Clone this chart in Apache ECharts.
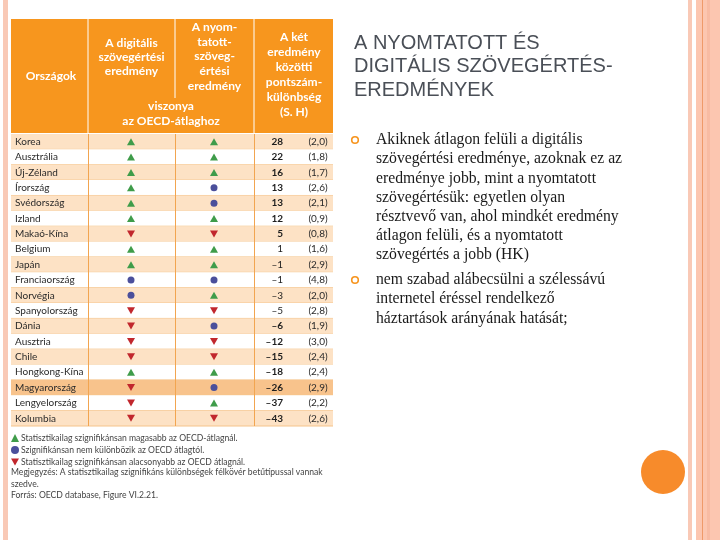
<!DOCTYPE html>
<html><head><meta charset="utf-8">
<script src="https://cdn.jsdelivr.net/npm/echarts@6/dist/echarts.min.js"></script>
<style>html,body{margin:0;padding:0;background:#fff}#c{width:720px;height:540px}</style>
</head><body><div id="c"></div>
<script>
// ---------- DATA ----------
const countries = ["Korea","Ausztrália","Új-Zéland","Írország","Svédország","Izland","Makaó-Kína","Belgium","Japán","Franciaország","Norvégia","Spanyolország","Dánia","Ausztria","Chile","Hongkong-Kína","Magyarország","Lengyelország","Kolumbia"];
const digitalStatus = ["up","up","up","up","up","up","down","up","up","same","same","down","down","down","down","up","down","down","down"];
const printedStatus = ["up","up","up","same","same","up","down","up","up","same","up","down","same","down","down","up","same","up","down"];
const diffValues = [28,22,16,13,13,12,5,1,-1,-1,-3,-5,-6,-12,-15,-18,-26,-37,-43];
const seValues = ["2,0","1,8","1,7","2,6","2,1","0,9","0,8","1,6","2,9","4,8","2,0","2,8","1,9","3,0","2,4","2,4","2,9","2,2","2,6"];
const significant = [true,true,true,true,true,true,true,false,false,false,false,false,true,true,true,true,true,true,true];
const highlightCountry = "Magyarország";
const statusNames = {
  up: "Statisztikailag szignifikánsan magasabb az OECD-átlagnál.",
  same: "Szignifikánsan nem különbözik az OECD átlagtól.",
  down: "Statisztikailag szignifikánsan alacsonyabb az OECD átlagnál."
};
const headerCountry = "Országok";
const headerDigital = ["A digitális","szövegértési","eredmény"];
const headerPrinted = ["A nyom-","tatott-","szöveg-","értési","eredmény"];
const headerRelation = ["viszonya","az OECD-átlaghoz"];
const headerDiff = ["A két","eredmény","közötti","pontszám-","különbség","(S. H)"];
const noteLines = ["Megjegyzés: A statisztikailag szignifikáns különbségek félkövér betűtípussal vannak","szedve.","Forrás: OECD database, Figure VI.2.21."];
const titleLines = ["A NYOMTATOTT ÉS","DIGITÁLIS SZÖVEGÉRTÉS-","EREDMÉNYEK"];
const bulletTexts = [
  ["Akiknek átlagon felüli a digitális","szövegértési eredménye, azoknak ez az","eredménye jobb, mint a nyomtatott","szövegértésük: egyetlen olyan","résztvevő van, ahol mindkét eredmény","átlagon felüli, és a nyomtatott","szövegértés a jobb (HK)"],
  ["nem szabad alábecsülni a szélessávú","internetel éréssel rendelkező","háztartások arányának hatását;"]
];

// ---------- LAYOUT ----------
const TABLE_W = 322;
const COL_DIG = 120, COL_PRI = 203, COL_DIFF = 272, COL_SE = 307;
const DIVIDERS = [77, 164, 243];
const COLORS = {up:'#3f9c4a', same:'#4b4f9b', down:'#c1272d'};
const SYMBOLS = {up:'triangle', same:'circle', down:'path://M0,0L10,0L5,8.7Z'};
const SIZES = {up:[8,7], same:7, down:[8,7]};

function markerData(status){
  const out=[];
  countries.forEach((c,i)=>{
    if(digitalStatus[i]===status) out.push([COL_DIG,i]);
    if(printedStatus[i]===status) out.push([COL_PRI,i]);
  });
  return out;
}
const fmt = v => (v<0 ? '\u2013'+Math.abs(v) : String(v));

const chart = echarts.init(document.getElementById('c'), null, {renderer:'canvas'});
const FONT = 'Lato, "Open Sans", sans-serif';
const HF = 'bold 12px '+FONT;

const graphics = [
  {type:'rect', shape:{x:3,y:0,width:5,height:540}, style:{fill:'#f9c9b6'}, silent:true},
  {type:'rect', shape:{x:688,y:0,width:4,height:540}, style:{fill:'#f9c9b6'}, silent:true},
  {type:'rect', shape:{x:696,y:0,width:24,height:540}, style:{fill:'#fcc6b0'}, silent:true},
  {type:'rect', shape:{x:707,y:0,width:3,height:540}, style:{fill:'#f8bba3'}, silent:true},
  {type:'line', shape:{x1:702.5,y1:0,x2:702.5,y2:540}, style:{stroke:'#ef9a6a',lineWidth:1}, silent:true},
  {type:'rect', shape:{x:11,y:19,width:TABLE_W,height:114}, style:{fill:'#f7961e'}},
  {type:'line', shape:{x1:88,y1:19,x2:88,y2:133}, style:{stroke:'#fff',lineWidth:1}},
  {type:'line', shape:{x1:175,y1:19,x2:175,y2:98}, style:{stroke:'#fff',lineWidth:1}},
  {type:'line', shape:{x1:254,y1:19,x2:254,y2:133}, style:{stroke:'#fff',lineWidth:1}},
  {type:'text', x:51, y:76, style:{text:headerCountry, font:HF, fill:'#fff', align:'center', verticalAlign:'middle'}},
  {type:'text', x:131.5, y:36, style:{text:headerDigital.join('\n'), font:HF, fill:'#fff', align:'center', verticalAlign:'top', lineHeight:14}},
  {type:'text', x:214.5, y:19.5, style:{text:headerPrinted.join('\n'), font:HF, fill:'#fff', align:'center', verticalAlign:'top', lineHeight:14.8}},
  {type:'text', x:171, y:98.5, style:{text:headerRelation.join('\n'), font:HF, fill:'#fff', align:'center', verticalAlign:'top', lineHeight:15}},
  {type:'text', x:294, y:29.5, style:{text:headerDiff.join('\n'), font:HF, fill:'#fff', align:'center', verticalAlign:'top', lineHeight:15}},
  {type:'text', x:11, y:466.5, style:{text:noteLines.join('\n'), font:'8.6px '+FONT, fill:'#444', align:'left', verticalAlign:'top', lineHeight:11.5}},
  {type:'text', x:354, y:31.5, style:{text:titleLines.join('\n'), font:'20px "Liberation Sans", Arial, sans-serif', fill:'#4a4f57', align:'left', verticalAlign:'top', lineHeight:23.5}},
  {type:'circle', shape:{cx:355,cy:140,r:3.3}, style:{fill:'none', stroke:'#f7941d', lineWidth:1.6}},
  {type:'text', x:376, y:130.5, style:{text:bulletTexts[0].join('\n'), font:'15.7px "Liberation Serif", serif', fill:'#1a1a1a', align:'left', verticalAlign:'top', lineHeight:19.2}},
  {type:'circle', shape:{cx:355,cy:280,r:3.3}, style:{fill:'none', stroke:'#f7941d', lineWidth:1.6}},
  {type:'text', x:376, y:270.5, style:{text:bulletTexts[1].join('\n'), font:'15.7px "Liberation Serif", serif', fill:'#1a1a1a', align:'left', verticalAlign:'top', lineHeight:19.2}},
  {type:'circle', shape:{cx:663,cy:472,r:22}, style:{fill:'#f78b2b'}}
];

chart.setOption({
  animation:false,
  backgroundColor:'#ffffff',
  grid:{left:11, top:134, width:TABLE_W, height:292, containLabel:false},
  xAxis:{type:'value', min:0, max:TABLE_W, show:false},
  yAxis:{type:'category', inverse:true, data:countries, z:10,
    axisLine:{show:false}, axisTick:{show:false}, splitLine:{show:false},
    axisLabel:{inside:true, margin:4, align:'left', color:'#2a2a2a', fontSize:10, fontFamily:FONT}},
  legend:{left:11, top:432.5, orient:'vertical', itemGap:1, itemWidth:8, itemHeight:8, padding:0,
    selectedMode:false,
    textStyle:{fontSize:8.6, lineHeight:11, fontFamily:FONT, color:'#444', padding:[0,0,0,-3]},
    data:[
      {name:statusNames.up, icon:'triangle', itemStyle:{color:COLORS.up}},
      {name:statusNames.same, icon:'circle', itemStyle:{color:COLORS.same}},
      {name:statusNames.down, icon:SYMBOLS.down, itemStyle:{color:COLORS.down}}
    ]},
  graphic:graphics,
  series:[
    {type:'custom', name:'rows', silent:true, z:1,
      data:countries.map((c,i)=>[0,i]),
      renderItem:(params, api)=>{
        const i = api.value(1);
        const p0 = api.coord([0,i]);
        const p1 = api.coord([TABLE_W,i]);
        const h = api.size([0,1])[1];
        const fill = countries[i]===highlightCountry ? '#f8c38c' : (i%2===0 ? '#fde2c5' : '#ffffff');
        return {type:'group', children:[
          {type:'rect', shape:{x:p0[0], y:p0[1]-h/2, width:p1[0]-p0[0], height:h}, style:{fill}},
          {type:'line', shape:{x1:p0[0], y1:p0[1]+h/2, x2:p1[0], y2:p0[1]+h/2}, style:{stroke:'#f5c48a', lineWidth:1}}
        ]};
      },
      markLine:{symbol:'none', silent:true, label:{show:false}, animation:false,
        lineStyle:{color:'#f2a550', width:1, type:'solid'},
        data:DIVIDERS.map(v=>({xAxis:v}))}
    },
    ...['up','same','down'].map(s=>({
      type:'scatter', name:statusNames[s], z:3, silent:true,
      symbol:SYMBOLS[s], symbolSize:SIZES[s],
      itemStyle:{color:COLORS[s], opacity:1},
      data:markerData(s)
    })),
    {type:'custom', name:'values', silent:true, z:4,
      data:countries.map((c,i)=>[COL_DIFF,i]),
      renderItem:(params, api)=>{
        const i = api.value(1);
        const pd = api.coord([COL_DIFF,i]);
        const ps = api.coord([COL_SE,i]);
        return {type:'group', children:[
          {type:'text', x:pd[0], y:pd[1], style:{text:fmt(diffValues[i]), align:'right', verticalAlign:'middle',
            font:(significant[i]?'bold ':'')+'10px '+FONT, fill:'#1e1e1e'}},
          {type:'text', x:ps[0], y:ps[1], style:{text:'('+seValues[i]+')', align:'center', verticalAlign:'middle',
            font:'10px '+FONT, fill:'#2a2a2a'}}
        ]};
      }
    }
  ]
});
</script></body></html>
